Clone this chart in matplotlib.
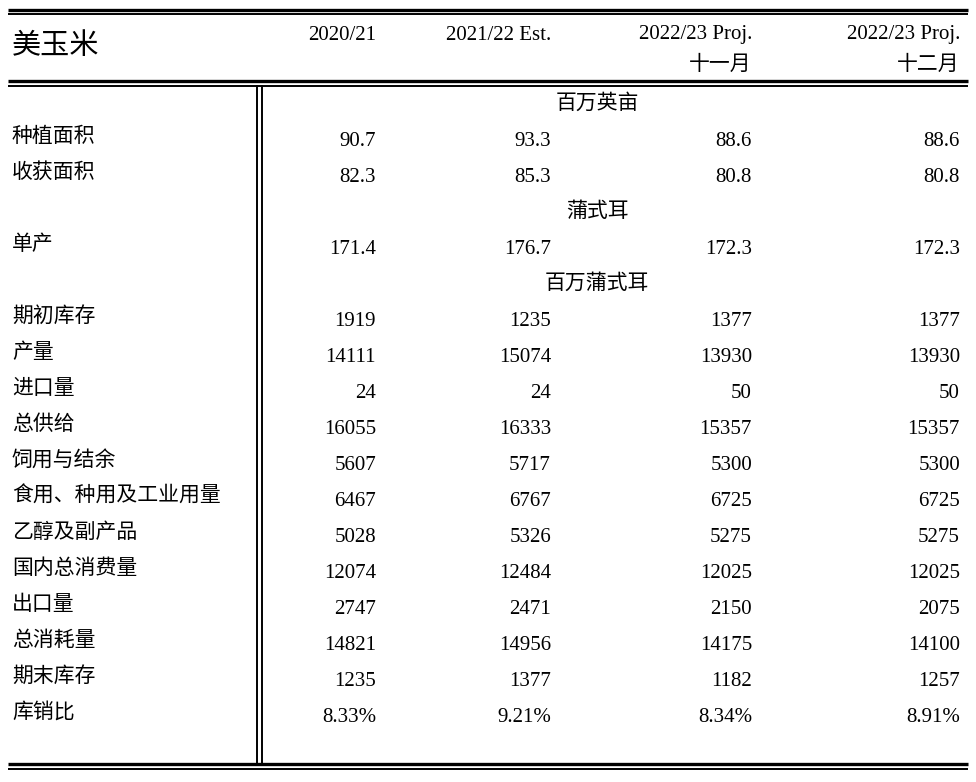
import matplotlib
matplotlib.use("Agg")
import matplotlib.pyplot as plt

FAM = ['Liberation Serif', 'Noto Sans CJK SC']
title = "美玉米"
headers = [["2020/21"], ["2021/22 Est."], ["2022/23 Proj.", "十一月"], ["2022/23 Proj.", "十二月"]]
units = {0: "百万英亩", 2: "蒲式耳", 3: "百万蒲式耳"}
labels = ["种植面积", "收获面积", "单产", "期初库存", "产量", "进口量", "总供给", "饲用与结余",
          "食用、种用及工业用量", "乙醇及副产品", "国内总消费量", "出口量", "总消耗量", "期末库存", "库销比"]
col_2020 = ["90.7", "82.3", "171.4", "1919", "14111", "24", "16055", "5607", "6467", "5028", "12074", "2747", "14821", "1235", "8.33%"]
col_2021 = ["93.3", "85.3", "176.7", "1235", "15074", "24", "16333", "5717", "6767", "5326", "12484", "2471", "14956", "1377", "9.21%"]
col_nov = ["88.6", "80.8", "172.3", "1377", "13930", "50", "15357", "5300", "6725", "5275", "12025", "2150", "14175", "1182", "8.34%"]
col_dec = ["88.6", "80.8", "172.3", "1377", "13930", "50", "15357", "5300", "6725", "5275", "12025", "2075", "14100", "1257", "8.91%"]

fig = plt.figure(figsize=(9.76, 7.82), dpi=100)
ax = fig.add_axes([0, 0, 1, 1])
ax.set_xlim(0, 976); ax.set_ylim(782, 0); ax.axis('off')

def hl(y, lw):
    ax.plot([8, 968], [y, y], color='black', lw=lw, solid_capstyle='butt')
hl(10, 2.4); hl(13.8, 1.4); hl(80.5, 2.4); hl(85.5, 1.4); hl(764, 2.4); hl(768.5, 1.4)
for x in (257.3, 261.5):
    ax.plot([x, x], [85.5, 764], color='black', lw=1.4)

fs = 15
ax.text(12, 47, title, fontsize=21, family=FAM, va='center', ha='left')
xr = [376, 551, 752, 960]
for x, h in zip(xr, headers):
    for i, t in enumerate(h):
        ax.text(x, 35 + 30 * i, t, fontsize=fs, family=FAM, va='center', ha='right')

rows_y = [142, 178, 250, 322, 358, 394, 430, 466, 502, 538, 574, 610, 646, 682, 718]
unit_y = {0: 104, 2: 212, 3: 284}
for k, u in units.items():
    ax.text(597, unit_y[k], u, fontsize=fs, family=FAM, style='italic', va='center', ha='center')
cols = [col_2020, col_2021, col_nov, col_dec]
for i, lab in enumerate(labels):
    y = rows_y[i]
    ax.text(12, y - 5, lab, fontsize=fs, family=FAM, va='center', ha='left')
    for x, c in zip(xr, cols):
        ax.text(x, y, c[i], fontsize=fs, family=FAM, va='center', ha='right')

fig.savefig("out.png", dpi=100)
